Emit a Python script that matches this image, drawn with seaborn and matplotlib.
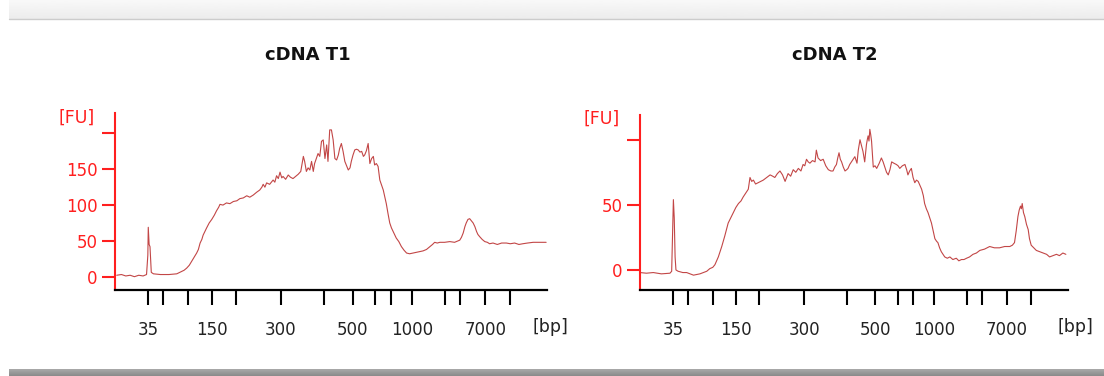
"""
Two Bioanalyzer-style electropherograms (cDNA T1 / cDNA T2)
"""

## Import packages
import numpy as np
import pandas as pd
import matplotlib.pyplot as plt
import seaborn as sns


## Data (x = relative migration position 0-100, y = [FU])
t1_pos = [0.4, 1.5, 2.5, 3.5, 4.5, 5.5, 6.5, 7.3, 7.6, 7.7,
          7.9, 8.1, 8.4, 8.9, 10.5, 12.5, 14.3, 15.0, 16.0, 16.6,
          17.2, 17.7, 18.3, 18.9, 19.3, 19.7, 20.1, 20.4, 20.8, 21.2,
          21.8, 22.4, 23.0, 23.5, 24.0, 24.3, 25.0, 25.8, 26.6, 27.4,
          28.2, 28.9, 29.7, 30.5, 31.2, 32.0, 32.8, 33.5, 34.0, 34.3,
          34.7, 35.1, 35.8, 36.6, 37.0, 37.4, 37.8, 38.2, 38.6, 38.9,
          39.5, 40.1, 40.6, 41.2, 41.8, 42.4, 43.0, 43.6, 43.9, 44.3,
          44.7, 45.1, 45.5, 45.9, 46.2, 46.6, 47.0, 47.4, 47.8, 48.2,
          48.6, 49.0, 49.3, 49.7, 50.1, 50.5, 50.9, 51.3, 51.7, 52.0,
          52.4, 52.8, 53.2, 53.6, 54.0, 54.4, 54.7, 55.1, 55.5, 55.9,
          56.3, 56.7, 57.1, 57.5, 57.8, 58.2, 58.6, 59.0, 59.4, 59.8,
          60.1, 60.5, 60.9, 61.3, 61.7, 62.1, 62.5, 62.8, 63.2, 63.6,
          64.0, 64.4, 64.8, 65.1, 65.7, 66.3, 66.9, 67.5, 68.2, 69.0,
          69.8, 70.5, 71.3, 72.1, 72.9, 73.5, 74.0, 74.6, 75.2, 76.3,
          77.5, 78.6, 79.8, 80.2, 80.6, 81.0, 81.3, 81.7, 82.1, 82.5,
          82.9, 83.3, 83.7, 84.0, 84.4, 85.0, 85.6, 86.2, 86.7, 87.5,
          88.5, 89.5, 90.6, 91.5, 92.5, 93.5, 94.4, 95.5, 96.8, 98.0,
          99.8]
t1_fu = [2, 3, 1, 2, 0, 2, 1, 3, 30, 69,
         45, 42, 6, 4, 3, 3, 4, 6, 9, 12,
         16, 21, 27, 33, 38, 47, 52, 58, 63, 68,
         75, 80, 86, 92, 97, 101, 100, 103, 102, 105,
         106, 109, 110, 113, 111, 114, 118, 121, 125, 129,
         125, 131, 129, 135, 132, 141, 137, 146, 138, 140,
         136, 142, 139, 137, 140, 143, 147, 168, 161, 147,
         152, 149, 161, 147, 158, 165, 172, 168, 189, 191,
         165, 184, 161, 205, 205, 191, 165, 163, 170, 179,
         186, 175, 161, 155, 149, 152, 161, 170, 177, 178,
         177, 174, 175, 168, 170, 176, 186, 158, 165, 168,
         156, 158, 154, 135, 128, 121, 110, 102, 88, 75,
         68, 63, 58, 54, 49, 42, 37, 33, 32, 33,
         34, 35, 36, 38, 42, 45, 48, 47, 48, 48,
         49, 48, 51, 55, 61, 70, 75, 80, 81, 78,
         75, 70, 63, 59, 56, 52, 49, 48, 46, 47,
         45, 47, 47, 46, 47, 45, 46, 47, 48, 48,
         48]

t2_pos = [0.0, 1.5, 3.1, 5.0, 7.0, 7.4, 7.6, 7.8, 8.0, 8.2,
          8.4, 8.9, 10.0, 10.9, 12.5, 14.0, 15.6, 16.3, 17.0, 17.5,
          18.3, 19.1, 19.8, 20.6, 21.2, 21.8, 22.4, 23.0, 23.6, 24.1,
          24.7, 25.3, 25.7, 26.1, 26.5, 27.0, 27.6, 28.2, 28.8, 29.6,
          30.4, 31.0, 31.5, 32.1, 32.7, 33.3, 33.9, 34.6, 35.2, 35.8,
          36.4, 37.0, 37.6, 38.1, 38.5, 38.9, 39.3, 39.7, 40.3, 40.9,
          41.2, 41.6, 42.2, 42.8, 43.4, 44.0, 44.6, 45.1, 45.5, 45.9,
          46.2, 46.5, 46.8, 47.1, 47.5, 47.9, 48.3, 48.6, 49.0, 49.4,
          49.8, 50.2, 50.5, 50.7, 51.0, 51.4, 51.8, 52.1, 52.5, 52.9,
          53.1, 53.3, 53.5, 53.7, 53.9, 54.1, 54.5, 54.9, 55.3, 55.9,
          56.4, 56.8, 57.2, 57.6, 58.0, 58.4, 58.8, 59.3, 59.9, 60.3,
          60.7, 61.3, 61.9, 62.3, 62.6, 63.0, 63.4, 63.8, 64.2, 64.6,
          65.0, 65.4, 65.8, 66.2, 66.5, 66.9, 67.3, 67.7, 68.1, 68.5,
          68.9, 69.3, 69.6, 70.0, 70.4, 70.8, 71.2, 71.8, 72.4, 73.1,
          73.9, 74.5, 75.1, 75.7, 76.3, 77.0, 77.8, 78.6, 79.4, 80.5,
          81.7, 82.8, 84.0, 85.2, 86.4, 87.0, 87.5, 87.9, 88.3, 88.6,
          88.9, 89.1, 89.3, 89.6, 89.9, 90.3, 90.7, 91.0, 91.4, 92.0,
          92.6, 93.4, 94.2, 95.0, 95.7, 96.5, 97.3, 98.0, 98.8, 99.5]
t2_fu = [-2, -2.5, -2, -3, -2.5, -1, 25, 54, 40, 10,
         0, -1, -2, -2, -4, -3, -1, 1, 2, 4,
         10, 18, 26, 36, 40, 44, 48, 51, 53, 56,
         59, 62, 71, 68, 69, 66, 67, 68, 69, 71,
         73, 72, 71, 74, 76, 73, 68, 74, 72, 77,
         75, 78, 76, 81, 80, 85, 83, 82, 84, 83,
         92, 86, 84, 85, 80, 77, 76, 76, 79, 81,
         86, 90, 85, 83, 79, 76, 77, 78, 81, 83,
         85, 87, 84, 82, 92, 100, 95, 91, 83, 96,
         100, 103, 99, 108, 104, 99, 79, 80, 78, 82,
         86, 83, 79, 75, 73, 77, 83, 82, 81, 80,
         78, 80, 81, 77, 73, 76, 78, 71, 67, 69,
         68, 65, 62, 57, 51, 47, 44, 40, 36, 30,
         24, 22, 21, 17, 14, 12, 10, 9, 10, 8,
         9, 7, 8, 8, 9, 10, 12, 13, 15, 16,
         18, 17, 17, 18, 18, 19, 21, 30, 41, 46,
         49, 47, 51, 44, 41, 35, 31, 24, 19, 17,
         15, 14, 13, 12, 10, 11, 12, 11, 13, 12]

# Size-ladder ticks on the x-axis (only some are labelled)
bp_ticks = [7.7, 11.2, 17.0, 22.4, 27.9, 38.4, 48.4, 55.0,
            60.3, 63.8, 68.8, 76.4, 79.8, 85.7, 91.4]
bp_labels = ['35', '', '', '150', '', '300', '', '500',
             '', '', '1000', '', '', '7000', '']

titles = ['cDNA T1', 'cDNA T2']
fu_ticks = [[0, 50, 100, 150, 200], [0, 50, 100]]
fu_labels = [['0', '50', '100', '150', ''], ['0', '50', '']]
fu_lims = [(-18.6, 228.6), (-15.4, 119)]

df1 = pd.DataFrame({'pos': t1_pos, 'fu': t1_fu})
df2 = pd.DataFrame({'pos': t2_pos, 'fu': t2_fu})


## Style
sns.set_theme(style='white')
plt.rcParams['font.family'] = ['DejaVu Sans']

red = '#ff1f1f'
trace = '#c24646'

W, H = 1104, 376
fig = plt.figure(figsize=(W / 100, H / 100), dpi=100)

# Background frame (grey bands at top and bottom of the screenshot)
bg = fig.add_axes([0, 0, 1, 1], zorder=-1)
bg.set_xlim(0, W)
bg.set_ylim(H, 0)
bg.axis('off')
top = np.linspace(0.975, 0.925, 20).reshape(-1, 1)
bg.imshow(top, cmap='gray', vmin=0, vmax=1, extent=(9, W, 19, 0), aspect='auto')
bg.plot([9, W], [19, 19], color='#cccccc', lw=1)
bot = np.linspace(0.66, 0.55, 8).reshape(-1, 1)
bg.imshow(bot, cmap='gray', vmin=0, vmax=1, extent=(9, W, H, 369), aspect='auto')

# Axes positions in pixels: left, top, right, bottom
boxes = [(115, 113, 547, 290), (640, 115, 1068, 290)]
title_x = [308, 835]
fu_x = [[77, 118], [602, 119]]
bp_x = [550, 1075]

for i, (df, box) in enumerate(zip([df1, df2], boxes)):
    l, t, r, b = box
    ax = fig.add_axes([l / W, 1 - b / H, (r - l) / W, (b - t) / H])

    sns.lineplot(data=df, x='pos', y='fu', ax=ax, color=trace, linewidth=0.8)

    ax.set_xlim(0, 100)
    ax.set_ylim(*fu_lims[i])
    ax.set_xlabel('')
    ax.set_ylabel('')

    # Spines
    ax.spines['top'].set_visible(False)
    ax.spines['right'].set_visible(False)
    ax.spines['left'].set_color(red)
    ax.spines['left'].set_linewidth(1.5)
    ax.spines['bottom'].set_color('black')
    ax.spines['bottom'].set_linewidth(1.6)

    # Ticks
    ax.set_xticks(bp_ticks)
    ax.set_xticklabels(bp_labels)
    ax.set_yticks(fu_ticks[i])
    ax.set_yticklabels(fu_labels[i])
    ax.tick_params(axis='x', bottom=True, length=11, width=1.5, color='black',
                   labelsize=12, labelcolor='#222222', pad=11)
    ax.tick_params(axis='y', left=True, length=9.5, width=1.5, color=red,
                   labelsize=12, labelcolor=red, pad=3)

    # Titles and unit labels
    fig.text(title_x[i] / W, 1 - 55 / H, titles[i], ha='center', va='center',
             fontsize=13, fontweight='bold', color='#111111')
    fig.text(fu_x[i][0] / W, 1 - fu_x[i][1] / H, '[FU]', ha='center', va='center',
             fontsize=12.5, color=red)
    fig.text(bp_x[i] / W, 1 - 327 / H, '[bp]', ha='center', va='center',
             fontsize=12.5, color='#222222')

plt.savefig('out.png', dpi=100)
